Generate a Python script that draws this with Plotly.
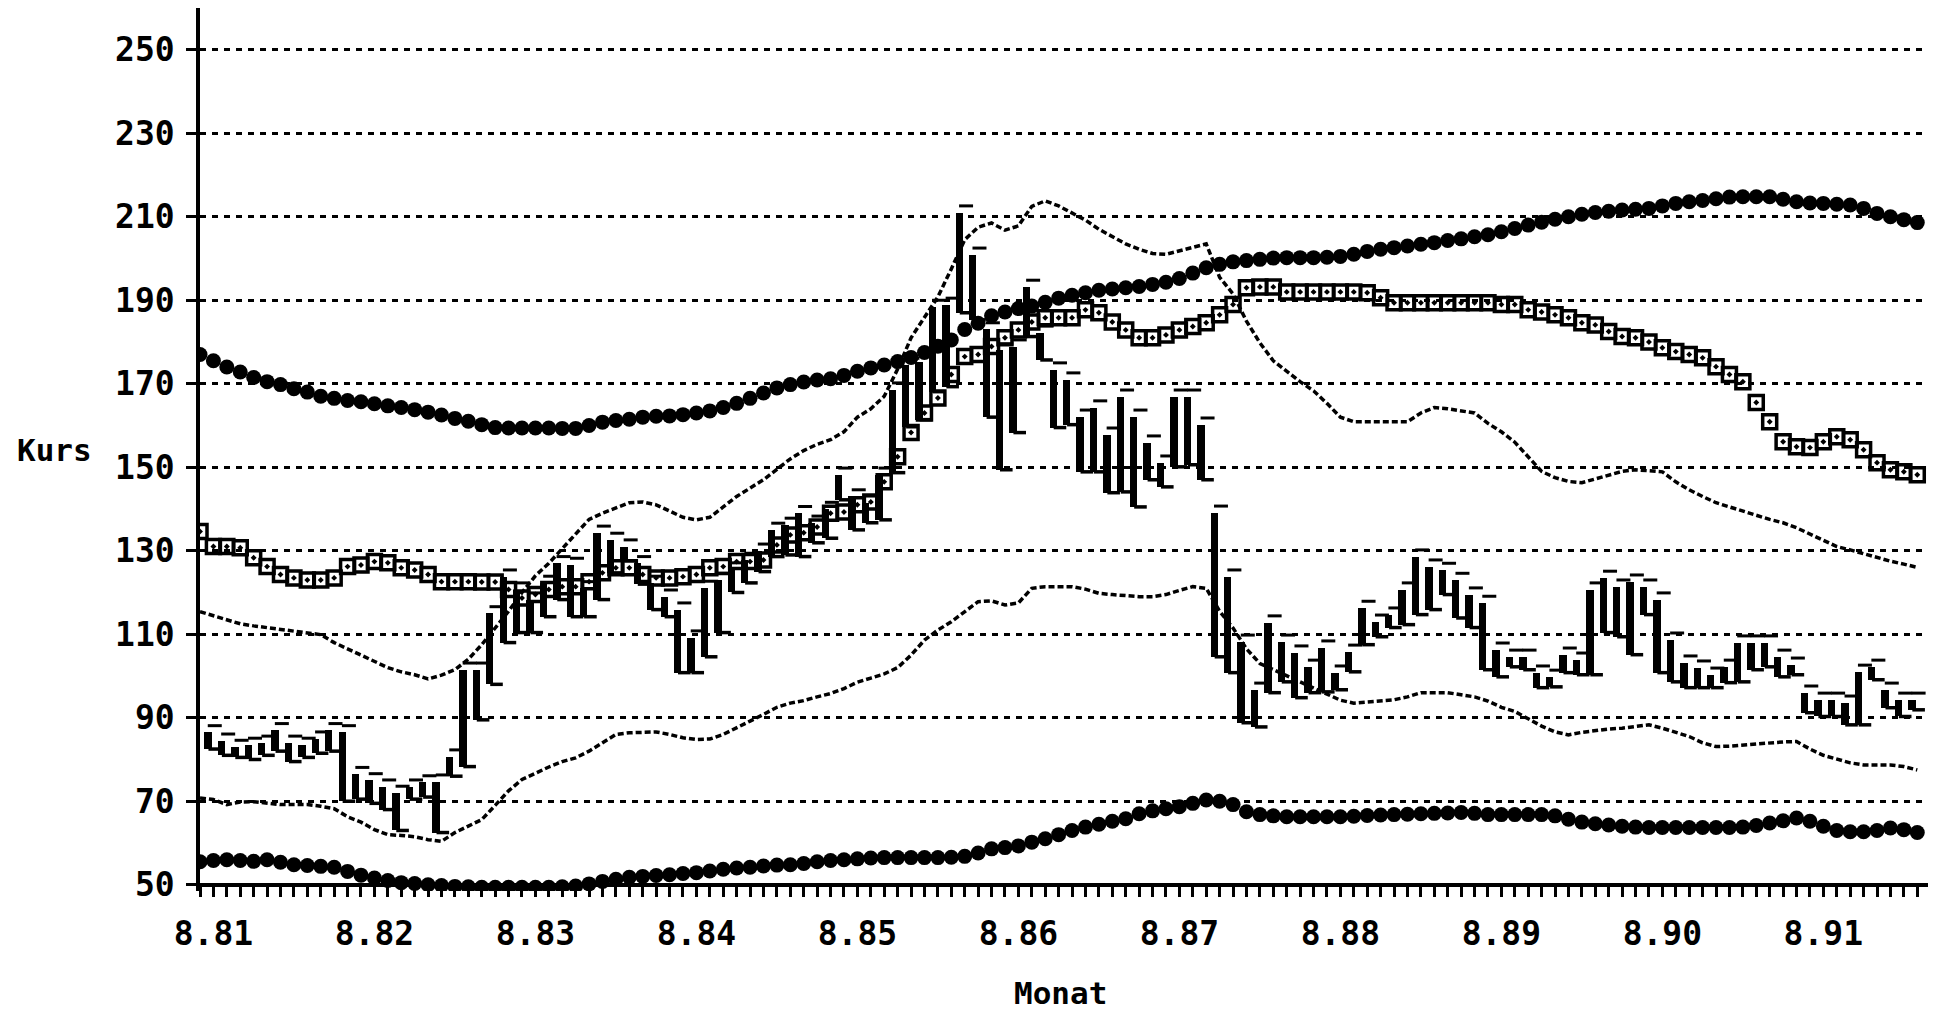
import plotly.graph_objects as go

# ---------------- data ----------------
# monthly positions: index 0 = first month at the y axis, labels every August
jahres_labels = ["8.81", "8.82", "8.83", "8.84", "8.85", "8.86",
                 "8.87", "8.88", "8.89", "8.90", "8.91"]
erster_label_monat = 1
monate_pro_jahr = 12
y_ticks = [50, 70, 90, 110, 130, 150, 170, 190, 210, 230, 250]

obere_kreise = [
    177, 175.5, 174, 172.8, 171.5, 170.5, 169.8, 168.8, 168, 167,
    166.5, 166, 165.7, 165.2, 164.7, 164.3, 163.8, 163.2, 162.5, 161.7,
    161, 160.2, 159.5, 159.4, 159.4, 159.4, 159.4, 159.3, 159.3, 160,
    160.8, 161.2, 161.5, 162, 162.2, 162.3, 162.6, 163, 163.5, 164.3,
    165.3, 166.5, 167.8, 169, 169.8, 170.4, 170.9, 171.2, 172, 173,
    173.8, 174.5, 175.3, 176.3, 177.5, 179, 180.5, 183, 184.5, 186.3,
    187.2, 188, 188.6, 189.5, 190.5, 191.2, 191.8, 192.4, 192.7, 193,
    193.3, 193.8, 194.3, 195.2, 196.5, 197.8, 198.6, 199.2, 199.5, 199.8,
    200.1, 200.2, 200.2, 200.2, 200.3, 200.5, 201, 201.7, 202.2, 202.6,
    203, 203.4, 203.8, 204.3, 204.7, 205.2, 205.7, 206.4, 207.2, 208,
    208.7, 209.4, 210, 210.6, 211, 211.3, 211.6, 211.8, 212, 212.6,
    213.2, 213.6, 213.9, 214.3, 214.7, 214.8, 214.8, 214.8, 214.2, 213.6,
    213.3, 213.2, 213, 212.8, 212, 210.8, 210, 209.3, 208.6]

untere_kreise = [
    55.5, 55.8, 56, 55.8, 55.6, 56, 55.4, 54.8, 54.6, 54.4,
    54.2, 53.2, 52.3, 51.6, 51, 50.5, 50.3, 50, 49.8, 49.6,
    49.5, 49.4, 49.4, 49.4, 49.4, 49.4, 49.4, 49.5, 49.7, 50.2,
    50.8, 51.3, 51.8, 52, 52.2, 52.4, 52.7, 52.9, 53.3, 53.7,
    54, 54.2, 54.5, 54.7, 54.8, 55.1, 55.5, 55.8, 56, 56.2,
    56.4, 56.5, 56.5, 56.5, 56.5, 56.5, 56.6, 56.8, 57.6, 58.6,
    58.9, 59.3, 60.2, 61, 62, 63, 63.8, 64.5, 65.2, 65.8,
    67, 67.7, 68.2, 68.7, 69.5, 70.3, 70, 69.2, 67.5, 66.8,
    66.5, 66.3, 66.3, 66.3, 66.3, 66.3, 66.4, 66.6, 66.7, 66.8,
    66.9, 67, 67.1, 67.2, 67.3, 67.1, 66.8, 66.8, 66.8, 66.8,
    66.8, 66.5, 65.7, 65, 64.6, 64.3, 64, 63.8, 63.7, 63.7,
    63.7, 63.7, 63.7, 63.7, 63.7, 63.8, 64.2, 64.8, 65.3, 66,
    65.2, 64, 63, 62.7, 62.7, 63, 63.6, 63.2, 62.5]

durchschnitt = [
    134.6, 131, 131, 130.7, 128.3, 126.2, 124.3, 123.5, 123, 123,
    123.5, 126.2, 126.6, 127.4, 127.1, 125.9, 125.4, 124.3, 122.6, 122.6,
    122.6, 122.5, 122.5, 120.7, 118.7, 119.5, 120.7, 121.4, 121.4, 122.6,
    124.7, 125.9, 125.9, 124.3, 123.5, 123.5, 123.8, 124.3, 125.9, 126.2,
    127.4, 127.4, 127.8, 131.4, 133.8, 134.3, 135.7, 139, 139.3, 141,
    141.7, 146.5, 152.5, 158.3, 163, 166.6, 172.2, 176.5, 177, 178.9,
    181, 182.9, 184.8, 185.8, 185.8, 185.8, 187.7, 187, 184.8, 182.9,
    181, 181, 181.7, 182.9, 183.7, 184.6, 186.5, 189, 193, 193.2,
    193.2, 192, 192, 192, 192, 192, 192, 191.8, 190.6, 189.4,
    189.4, 189.4, 189.4, 189.4, 189.4, 189.4, 189.4, 189, 189, 187.7,
    187.2, 186.5, 185.8, 184.6, 184.1, 182.5, 181.3, 181, 180, 178.6,
    177.7, 177, 176.2, 174.1, 172.2, 170.5, 165.5, 160.9, 156.1, 154.9,
    154.7, 156.1, 157.3, 156.6, 154.2, 151.1, 149.4, 148.9, 148.2]

band_oben = [
    115.4, 114.5, 113.5, 112.5, 112, 111.6, 111, 110.6, 110.4, 109.9,
    108, 106.5, 104.8, 103.5, 102, 101, 100.3, 99.3, 100.2, 101.5,
    104, 107.5, 111.5, 115.5, 120, 124, 127, 130.5, 134, 137.5,
    139, 140.3, 141.5, 141.7, 141, 139.5, 138, 137.4, 138, 140.5,
    143, 145, 147, 149.5, 152, 154, 155.5, 156.6, 158.5, 162,
    164, 167, 173.5, 181, 186, 190.8, 197.5, 204.5, 207.5, 208.5,
    206.8, 207.8, 212.5, 213.8, 212.6, 211, 209.2, 207, 205.3, 203.5,
    202.2, 201.2, 201, 201.8, 202.8, 203.5, 195.5, 191.5, 185, 179.8,
    175.5, 173, 170.5, 168.3, 165.3, 162, 160.9, 160.9, 160.9, 160.9,
    160.9, 163, 164.3, 164, 163.5, 163, 160.5, 158.5, 156, 152.5,
    149, 147.5, 146.6, 146.3, 147.2, 148.2, 149, 149.4, 149.2, 148.9,
    146.5, 144.6, 143, 141.5, 140.5, 139.4, 138.5, 137.5, 136.7, 135.5,
    134, 132.7, 131, 130.2, 129.3, 128.3, 127.5, 126.8, 126]

band_unten = [
    70.8, 70.4, 69.2, 69.8, 69.9, 69.5, 69.2, 69.2, 69.2, 68.8,
    68.2, 66.3, 65, 63.2, 62, 61.8, 61.5, 60.8, 60.4, 62.5,
    64, 65.6, 69, 72.5, 75.2, 76.8, 78.2, 79.5, 80.4, 82,
    84, 86, 86.4, 86.4, 86.6, 86, 85.2, 84.8, 84.9, 86,
    87.5, 89.2, 90.8, 92.5, 93.5, 94.1, 95, 95.8, 97, 98.5,
    99.5, 100.5, 102, 105, 108.6, 111, 113, 115.5, 117.8, 118,
    117, 117.5, 121, 121.4, 121.4, 121.4, 120.8, 119.8, 119.5, 119.2,
    119, 119, 119.5, 120.5, 121.4, 121, 115.5, 111.5, 106.5, 103,
    101.5, 100.2, 98.5, 97, 95.6, 94.2, 93.5, 93.8, 94, 94.3,
    95, 96, 96, 96, 95.5, 95, 94, 92.5, 91.5, 89.8,
    88, 86.6, 85.9, 86.5, 87, 87.3, 87.5, 87.8, 88.3, 87.5,
    86.6, 85.5, 84, 83.1, 83.2, 83.5, 83.8, 84, 84.2, 84.3,
    82.5, 81, 80, 79.2, 78.7, 78.7, 78.7, 78.3, 77.5]

kurs_tief = [
    82.5, 81, 80.5, 80, 81, 82, 79.5, 80.5, 81.5, 82,
    70, 70.5, 69.5, 68, 63, 70.5, 71, 62.5, 76, 78.3,
    89.5, 98, 108, 110.4, 110.4, 114.2, 118.3, 114.2, 114.2, 118.3,
    124.7, 127.6, 122, 115.9, 114.2, 100.8, 100.8, 104.6, 110.4, 120,
    122.3, 125, 128.6, 129, 128.6, 131.9, 133, 142.2, 135, 136.7,
    137.4, 148.7, 159.7, 161.4, 168.1, 169.3, 187, 185.3, 162, 149.4,
    158.3, 181.3, 175.7, 159.5, 160.2, 148.9, 148.9, 143.9, 144.1, 140.5,
    147, 145.3, 150.1, 150.6, 147, 104.6, 100.8, 88.8, 87.8, 96,
    98.6, 94.8, 96, 96.2, 96.7, 101, 107.5, 109.4, 111.6, 112.3,
    114.7, 115.9, 119.5, 113.9, 111.6, 101.5, 99.8, 102.2, 101.5, 97.2,
    97.4, 100.8, 100.3, 100.3, 110.4, 109.4, 105.1, 114.7, 100.8, 98.6,
    97.2, 97.2, 97.2, 98.4, 98.6, 101.5, 102.2, 99.8, 100.3, 91.2,
    90.3, 90.3, 88.3, 88.3, 99.1, 92.4, 90.3, 91.9]

kurs_hoch = [
    86.5, 84.5, 83, 83.5, 84, 87, 84, 83.5, 85, 87,
    86.5, 76.5, 75, 73.5, 72, 73.5, 74.5, 74.7, 80.7, 101.5,
    101.5, 115, 123.8, 120.7, 118.3, 122.3, 127, 126.6, 121, 134.3,
    132.6, 131, 127, 122.3, 119, 115.9, 109.2, 121.1, 123, 125.5,
    127.8, 130, 135, 136.2, 139, 136.7, 140, 148.2, 143, 141.5,
    148.2, 168.6, 174.5, 175.3, 188.4, 188.9, 211, 200.9, 183, 178,
    178.9, 193.2, 182.2, 173.4, 171, 162.1, 164.3, 157.8, 166.9, 162.1,
    155.9, 151.1, 166.9, 166.9, 160.2, 139.1, 123.8, 108.2, 96.7, 112.8,
    108.2, 105.6, 102.2, 106.8, 100.8, 105.8, 116.3, 113, 114.7, 120.7,
    128.6, 126.2, 125.4, 123, 119.5, 117.5, 106.3, 104.6, 104.6, 100.8,
    99.8, 105.1, 103.9, 120.7, 123.5, 121.4, 122.6, 121.4, 118.3, 108.7,
    103.2, 102, 100.3, 102.2, 108, 108, 108, 104.6, 102.7, 96,
    94.3, 94.3, 93.6, 101, 102.2, 96.7, 94.3, 94.3]

# ---------------- derived index positions ----------------
monate = list(range(len(obere_kreise)))
bar_monate = list(range(len(kurs_tief)))
label_pos = [erster_label_monat + monate_pro_jahr * j for j in range(len(jahres_labels))]
tick_text = [jahres_labels[label_pos.index(m)] if m in label_pos else "" for m in monate]
spannweite = [h - t for h, t in zip(kurs_hoch, kurs_tief)]

# ---------------- styling ----------------
FONT = "DejaVu Sans Mono"
X_RANGE = [0, 128.8]
Y_RANGE = [48.5, 260]          # a little room below the 50 axis for the circles
X_AXIS_AT = y_ticks[0]
X_AXIS_POS = (X_AXIS_AT - Y_RANGE[0]) / (Y_RANGE[1] - Y_RANGE[0])
BAR_SHIFT = 0.6       # bars drawn mid-month
TICK_SHIFT = 1.1      # small marks to the right of bars
DASH_LIFT = 1.6       # marks above bar tops

fig = go.Figure()

# high-low bars
fig.add_trace(go.Bar(x=bar_monate, y=spannweite, base=kurs_tief, width=0.55,
                     marker=dict(color="black", line=dict(width=0)),
                     xaxis="x2", yaxis="y", showlegend=False, hoverinfo="skip"))
# small dashes above the bars
fig.add_trace(go.Scatter(x=bar_monate, y=kurs_hoch, mode="markers", xaxis="x3", yaxis="y2",
                         marker=dict(symbol="line-ew", size=10, line=dict(width=3, color="black")),
                         showlegend=False, hoverinfo="skip"))
# feet at the bar bottoms
fig.add_trace(go.Scatter(x=bar_monate, y=kurs_tief, mode="markers", xaxis="x3", yaxis="y",
                         marker=dict(symbol="line-ew", size=9, line=dict(width=3.5, color="black")),
                         showlegend=False, hoverinfo="skip"))

# dotted band lines
for band in (band_oben, band_unten):
    fig.add_trace(go.Scatter(x=monate, y=band, mode="lines",
                             line=dict(color="black", width=3.5, dash="6px,3px"),
                             showlegend=False, hoverinfo="skip"))

# moving average, open squares with dot
fig.add_trace(go.Scatter(x=monate, y=durchschnitt, mode="markers",
                         marker=dict(symbol="square-open-dot", size=14, color="black",
                                     line=dict(width=3.5, color="black")),
                         showlegend=False, hoverinfo="skip"))

# channel of filled circles
for kanal in (obere_kreise, untere_kreise):
    fig.add_trace(go.Scatter(x=monate, y=kanal, mode="markers",
                             marker=dict(symbol="circle", size=15, color="black",
                                         line=dict(width=0)),
                             showlegend=False, hoverinfo="skip"))

tick_font = dict(family=FONT, size=33, color="black", weight="bold")
title_font = dict(family=FONT, size=31, color="black", weight="bold")

fig.update_layout(
    width=1934, height=1011,
    margin=dict(l=200, r=6, t=8, b=120, autoexpand=False),
    paper_bgcolor="white", plot_bgcolor="white",
    showlegend=False, bargap=0,
    xaxis=dict(range=X_RANGE, tickvals=monate, ticktext=tick_text,
               anchor="free", position=X_AXIS_POS, automargin=False,
               ticks="outside", ticklen=11, tickwidth=3, tickcolor="black",
               showline=True, linewidth=3.5, linecolor="black",
               showgrid=False, zeroline=False, tickfont=tick_font,
               ticklabelstandoff=8, tickangle=0),
    xaxis2=dict(range=[X_RANGE[0] - BAR_SHIFT, X_RANGE[1] - BAR_SHIFT],
                overlaying="x", anchor="y", visible=False),
    xaxis3=dict(range=[X_RANGE[0] - TICK_SHIFT, X_RANGE[1] - TICK_SHIFT],
                overlaying="x", anchor="y", visible=False),
    xaxis4=dict(range=X_RANGE, overlaying="x", anchor="free", position=X_AXIS_POS,
                tickvals=monate, ticks="inside", ticklen=11, tickwidth=3,
                tickcolor="black", showticklabels=False, showline=False,
                showgrid=False, zeroline=False),
    yaxis=dict(range=Y_RANGE, tickvals=y_ticks, automargin=False,
               ticks="outside", ticklen=10, tickwidth=3, tickcolor="black",
               showline=True, linewidth=3.5, linecolor="black",
               showgrid=True, gridcolor="black", gridwidth=3, griddash="6px,6px",
               zeroline=False, tickfont=tick_font, ticklabelstandoff=5),
    yaxis2=dict(range=[Y_RANGE[0] - DASH_LIFT, Y_RANGE[1] - DASH_LIFT],
                overlaying="y", anchor="x", visible=False),
    yaxis3=dict(range=Y_RANGE, overlaying="y", anchor="x", side="left",
                tickvals=y_ticks, ticks="inside", ticklen=12,
                tickwidth=3, tickcolor="black", showticklabels=False,
                showline=False, showgrid=False, zeroline=False),
    annotations=[
        dict(text="Kurs", xref="paper", yref="paper", x=0, y=0.5,
             xanchor="right", yanchor="middle", xshift=-106, showarrow=False,
             font=title_font),
        dict(text="Monat", xref="paper", yref="paper", x=0.498, y=0,
             xanchor="center", yanchor="middle", yshift=-102, showarrow=False,
             font=title_font),
    ],
)

fig.write_html("out.html", config={"displayModeBar": False},
               post_script="document.body.style.margin='0';document.body.style.overflow='hidden';")
